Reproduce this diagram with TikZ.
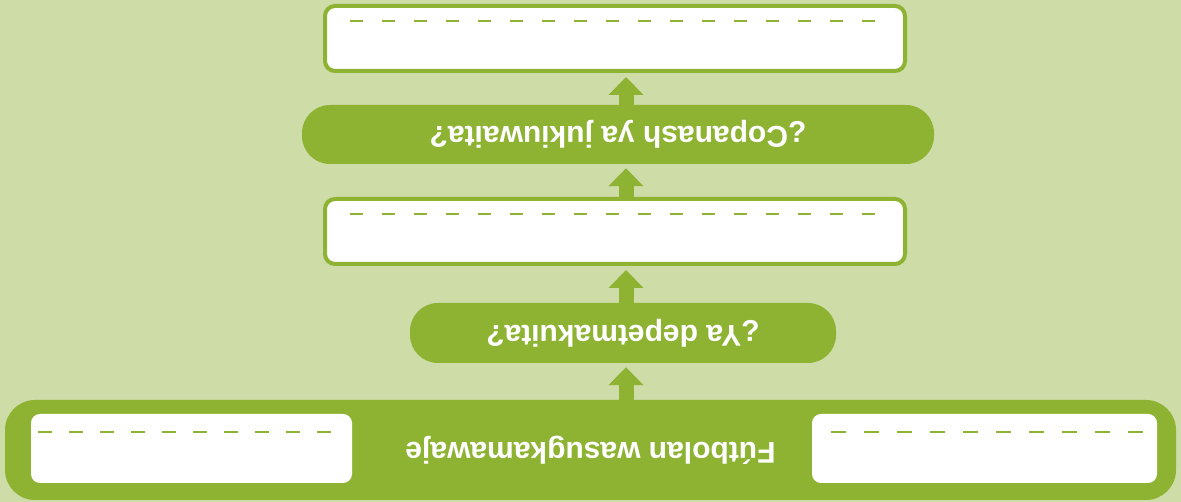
\documentclass[tikz,border=0pt]{standalone}
\usepackage{fontspec}
\setmainfont{Liberation Sans}
\usetikzlibrary{arrows.meta,positioning}
\definecolor{leafgreen}{RGB}{142,179,51}
\definecolor{palegreen}{RGB}{206,220,167}
\tikzset{question/.style={
    % The shape:
    rectangle,
    rounded corners=28pt,
    % The filling:
    fill=leafgreen,
    % Font
    text=white,
    font=\bfseries\fontsize{30}{34}\selectfont
    },
    answerbox/.style={
    rectangle,rounded corners=10pt,
    minimum width=580pt,
    minimum height=65pt,
    line width=4pt,
    draw=leafgreen,
    fill=white,
    },
    slot/.style={
    rectangle,rounded corners=9pt,
    minimum height=69pt,
    fill=white,
    },
    writeline/.style={leafgreen, line width=1.6pt, dash pattern=on 13pt off 19pt},
    bigarrow/.style={leafgreen, line width=15pt, -{Triangle[length=18pt,width=34pt]}, shorten >=4pt},
}

\begin{document}
\begin{tikzpicture}[x=1pt,y=1pt]
  \fill[palegreen] (0,0) rectangle (1181,502);
  \useasboundingbox (0,0) rectangle (1181,502);
  % the whole chart is printed upside down
  \begin{scope}[rotate around={180:(590.5,251)},transform shape]
    \node (bar)   [question,rounded corners=30pt,minimum width=1171pt,minimum height=100pt] at (590.5,450) {Fútbolan wasugkamawaje};
    \node (leftslot)  [slot,minimum width=345pt] at (196.5,448.5) {};
    \node (rightslot) [slot,minimum width=321pt] at (989.5,448.5) {};
    \node (depet) [question,minimum width=426pt,minimum height=60pt] at (558,333) {¿Ya depetmakuita?};
    \node (box2)  [answerbox] at (566,231.5) {};
    \node (copa)  [question,minimum width=632pt,minimum height=59pt] at (563,134.5) {¿Copanash ya jukiuwaita?};
    \node (box1)  [answerbox] at (566,38.5) {};

    % lines to write on
    \draw[writeline] (306,21) -- (832,21);
    \draw[writeline] (306,214) -- (832,214);
    \draw[writeline,dash pattern=on 15pt off 18pt] (38,432) -- (352,432);
    \draw[writeline,dash pattern=on 14pt off 17pt] (850,432) -- (1143,432);

    \coordinate (axis) at (555,0);
    \draw[bigarrow] (bar.south -| axis) -- (depet.north -| axis);
    \draw[bigarrow] (depet.south -| axis) -- (box2.north -| axis);
    \draw[bigarrow] (box2.south -| axis) -- (copa.north -| axis);
    \draw[bigarrow] (copa.south -| axis) -- (box1.north -| axis);
  \end{scope}
\end{tikzpicture}
\end{document}
